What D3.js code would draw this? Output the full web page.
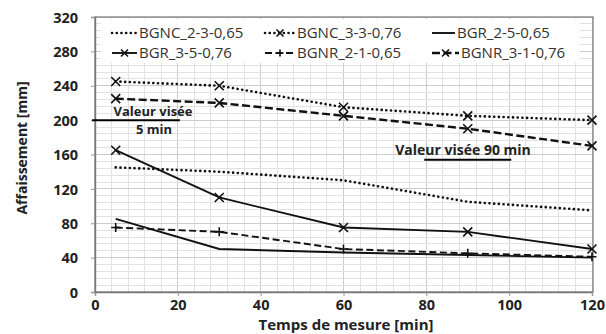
<!DOCTYPE html>
<html><head><meta charset="utf-8">
<script src="https://cdn.jsdelivr.net/npm/d3@7"></script>
<style>
html,body{margin:0;padding:0;background:#fff;}
svg{display:block;}
text{font-family:"Open Sans","Liberation Sans",Arial,sans-serif;}
</style></head>
<body>
<svg id="chart" width="606" height="334"></svg>
<script>
// ---- data ----
const times = [5, 30, 60, 90, 120];
const seriesNames = ["BGNC_2-3-0,65", "BGNC_3-3-0,76", "BGR_2-5-0,65", "BGR_3-5-0,76", "BGNR_2-1-0,65", "BGNR_3-1-0,76"];
const bgnc_2_3 = [145, 140, 130, 105, 95];
const bgnc_3_3 = [245, 240, 215, 205, 200];
const bgr_2_5  = [85, 50, 46, 43, 40];
const bgr_3_5  = [165, 110, 75, 70, 50];
const bgnr_2_1 = [75, 70, 50, 45, 41];
const bgnr_3_1 = [225, 220, 205, 190, 170];
const seriesValues = [bgnc_2_3, bgnc_3_3, bgr_2_5, bgr_3_5, bgnr_2_1, bgnr_3_1];
const xTicks = [0, 20, 40, 60, 80, 100, 120];
const yTicks = [0, 40, 80, 120, 160, 200, 240, 280, 320];
const xTitle = "Temps de mesure [min]";
const yTitle = "Affaissement [mm]";
// target annotations: value and time span
const target5Value = 200, target5Span = [-0.7, 20.5];
const target90Value = 154, target90Span = [79.5, 100.5];

// ---- styles (separate from data) ----
const DOT = "0.1,4.6";
const styles = [
  {dash: DOT,   width: 2.6, marker: null},
  {dash: DOT,   width: 2.6, marker: "x"},
  {dash: null,  width: 1.9, marker: null},
  {dash: null,  width: 1.9, marker: "x"},
  {dash: "7,3.5", width: 1.9, marker: "+"},
  {dash: "8,3.5", width: 2.4, marker: "x"}
];

const svg = d3.select("#chart");
const L = 95, R = 593, T = 17, B = 292;
const x = d3.scaleLinear().domain([0, 120]).range([L, R - 1]);
const y = d3.scaleLinear().domain([0, 320]).range([B, T]);

// grid
const g = svg.append("g");
const minorX = d3.range(0, 121, 4), minorY = d3.range(0, 321, 8);
g.selectAll(".mx").data(minorX).join("line")
  .attr("x1", d => x(d)).attr("x2", d => x(d)).attr("y1", T).attr("y2", B)
  .attr("stroke", d => d % 20 === 0 ? "#cccccc" : "#e2e2e2").attr("stroke-width", 1).attr("shape-rendering", "crispEdges");
g.selectAll(".my").data(minorY).join("line")
  .attr("y1", d => y(d)).attr("y2", d => y(d)).attr("x1", L).attr("x2", R)
  .attr("stroke", d => d % 40 === 0 ? "#cccccc" : "#e2e2e2").attr("stroke-width", 1).attr("shape-rendering", "crispEdges");

// plot frame
svg.append("rect").attr("x", L).attr("y", T).attr("width", R - L).attr("height", B - T)
  .attr("fill", "none").attr("stroke", "#808080").attr("stroke-width", 1.3);

// axes
const xAxis = d3.axisBottom(x).tickValues(xTicks).tickSize(4).tickPadding(4);
const yAxis = d3.axisLeft(y).tickValues(yTicks).tickSize(4).tickPadding(13);
const gx = svg.append("g").attr("transform", `translate(0,${B})`).call(xAxis);
const gy = svg.append("g").attr("transform", `translate(${L},0)`).call(yAxis);
[gx, gy].forEach(a => {
  a.select(".domain").attr("stroke", "#777").attr("stroke-width", 1.4);
  a.selectAll(".tick line").attr("stroke", "#999");
  a.selectAll(".tick text").attr("font-family", "'Open Sans','Liberation Sans',Arial,sans-serif")
    .attr("font-size", 14.5).attr("font-weight", "bold").attr("fill", "#222");
});
gy.selectAll(".tick text").attr("dy", "0.36em");

// axis titles
svg.append("text").attr("x", 346).attr("y", 330).attr("text-anchor", "middle")
  .attr("font-size", 15).attr("font-weight", "bold").attr("fill", "#222").text(xTitle);
svg.append("text").attr("transform", "translate(27,148) rotate(-90)").attr("text-anchor", "middle")
  .attr("font-size", 14).attr("font-weight", "bold").attr("fill", "#222").text(yTitle);

// marker drawer
function drawMarker(sel, type, cx, cy, s) {
  const p = d3.path();
  if (type === "x") {
    p.moveTo(cx - s, cy - s); p.lineTo(cx + s, cy + s);
    p.moveTo(cx - s, cy + s); p.lineTo(cx + s, cy - s);
  } else if (type === "+") {
    p.moveTo(cx - s, cy); p.lineTo(cx + s, cy);
    p.moveTo(cx, cy - s); p.lineTo(cx, cy + s);
  }
  sel.append("path").attr("d", p.toString()).attr("stroke", "#111").attr("stroke-width", 1.6).attr("fill", "none");
}

// series
const line = d3.line().x(d => x(d[0])).y(d => y(d[1]));
seriesValues.forEach((vals, i) => {
  const st = styles[i];
  const pts = times.map((t, j) => [t, vals[j]]);
  const sg = svg.append("g");
  sg.append("path").attr("d", line(pts)).attr("fill", "none").attr("stroke", "#111")
    .attr("stroke-width", st.width).attr("stroke-dasharray", st.dash)
    .attr("stroke-linecap", st.dash === DOT ? "round" : "butt");
  if (st.marker) pts.forEach(p => drawMarker(sg, st.marker, x(p[0]), y(p[1]), 4.5));
});

// target annotations
const ag = svg.append("g");
ag.append("line").attr("x1", x(target5Span[0])).attr("x2", x(target5Span[1]))
  .attr("y1", y(target5Value)).attr("y2", y(target5Value)).attr("stroke", "#000").attr("stroke-width", 2);
ag.append("text").attr("x", 153).attr("y", 116).attr("text-anchor", "middle")
  .attr("font-size", 13).attr("font-weight", "bold").attr("fill", "#222").text("Valeur visée");
ag.append("text").attr("x", 154).attr("y", 134).attr("text-anchor", "middle")
  .attr("font-size", 13).attr("font-weight", "bold").attr("fill", "#222").text("5 min");
ag.append("text").attr("x", 463).attr("y", 155).attr("text-anchor", "middle")
  .attr("font-size", 14).attr("font-weight", "bold").attr("fill", "#222").text("Valeur visée 90 min");
ag.append("line").attr("x1", x(target90Span[0])).attr("x2", x(target90Span[1]))
  .attr("y1", y(target90Value)).attr("y2", y(target90Value)).attr("stroke", "#000").attr("stroke-width", 2);

// legend
const lg = svg.append("g");
lg.append("rect").attr("x", 101).attr("y", 19).attr("width", 479).attr("height", 44).attr("fill", "#fff");
const legendPos = [
  {sx: 112, tx: 139, y: 33}, {sx: 265, tx: 297, y: 33}, {sx: 432, tx: 457, y: 33},
  {sx: 112, tx: 139, y: 53}, {sx: 265, tx: 297, y: 53}, {sx: 432, tx: 461, y: 53}
];
seriesNames.forEach((name, si) => {
  const p = legendPos[si], st = styles[si];
  const x2 = p.tx - 2;
  lg.append("line").attr("x1", p.sx).attr("x2", x2).attr("y1", p.y).attr("y2", p.y)
    .attr("stroke", "#111").attr("stroke-width", st.width).attr("stroke-dasharray", st.dash)
    .attr("stroke-linecap", st.dash === DOT ? "round" : "butt");
  if (st.marker) drawMarker(lg, st.marker, (p.sx + x2) / 2, p.y, 3.5);
  lg.append("text").attr("x", p.tx).attr("y", p.y).attr("dy", "0.35em")
    .attr("font-size", 15).attr("fill", "#333").text(name);
});
</script>
</body></html>
